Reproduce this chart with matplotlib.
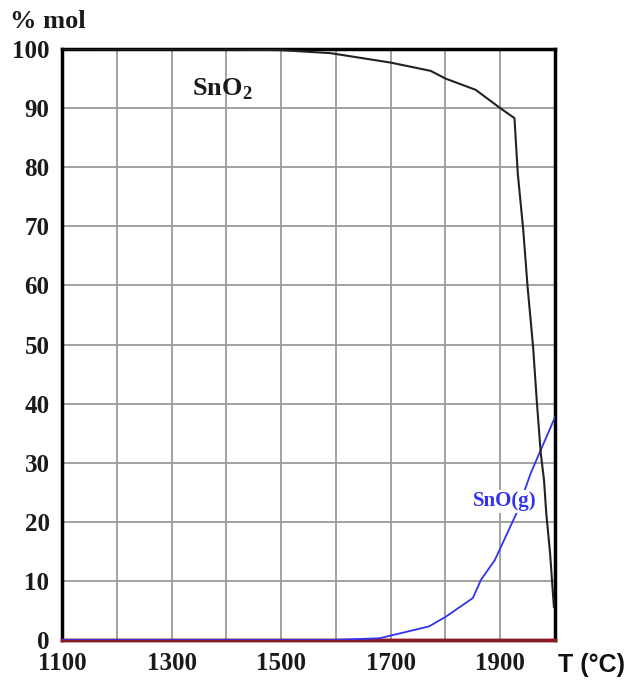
import matplotlib
matplotlib.use("Agg")
import matplotlib.pyplot as plt

plt.rcParams["mathtext.fontset"] = "custom"
plt.rcParams["mathtext.rm"] = "Liberation Serif"
plt.rcParams["mathtext.bf"] = "Liberation Serif:bold"

# SnO2 (condensed) - % mol vs temperature
t_sno2 = [1100, 1430, 1500, 1590, 1700, 1773, 1800, 1855, 1900, 1926,
          1932, 1942, 1950, 1960, 1967, 1974, 1980, 1984, 1991, 1998]
v_sno2 = [100, 99.9, 99.8, 99.3, 97.7, 96.3, 95.0, 93.1, 90.0, 88.3,
          79.0, 69.4, 59.7, 49.6, 40.1, 31.6, 27.0, 21.5, 14.7, 5.6]

# SnO gas
t_sno = [1100, 1595, 1680, 1770, 1800, 1850, 1865, 1890, 1930, 1956, 2000]
v_sno = [0, 0, 0.3, 2.3, 3.9, 7.1, 10.2, 13.5, 21.5, 28.3, 37.7]

# zero-level species
t_zero = [1100, 2000]
v_zero = [0, 0]

xticks = [1100, 1300, 1500, 1700, 1900]
yticks = list(range(0, 101, 10))

serif = ["Liberation Serif", "DejaVu Serif"]

fig = plt.figure(figsize=(6.29, 6.89), dpi=100)
ax = fig.add_axes([62/629, 1 - 640/689, (555-62)/629, (640-49)/689])

for x in range(1100, 2001, 100):
    ax.axvline(x, color="#9a9a9a", lw=1.3, zorder=1)
for y in yticks:
    ax.axhline(y, color="#9a9a9a", lw=1.3, zorder=1)

ax.plot(t_zero, v_zero, color="#8b1c24", lw=2.5, zorder=3, clip_on=False)
ax.plot(t_sno, v_sno, color="#3333ee", lw=1.3, zorder=4)
ax.plot(t_sno2, v_sno2, color="#222222", lw=1.5, zorder=5)

ax.set_xlim(1100, 2000)
ax.set_ylim(0, 100)
ax.set_xticks(xticks)
ax.set_yticks(yticks)
ax.tick_params(axis="y", length=0, pad=9)
ax.tick_params(axis="x", length=0, pad=9)
for lab in ax.get_xticklabels() + ax.get_yticklabels():
    lab.set_fontfamily(serif)
    lab.set_fontweight("bold")
    lab.set_fontsize(18)
    lab.set_color("#1a1a1a")

for s in ["left", "top", "right"]:
    ax.spines[s].set_linewidth(2.5)
    ax.spines[s].set_color("black")
ax.spines["bottom"].set_linewidth(2.5)
ax.spines["bottom"].set_color("#8b1c24")

ax.text(1338, 93.2, "SnO$_\\mathbf{2}$", family=serif, fontweight="bold",
        fontsize=19, ha="left", va="center", color="#1a1a1a")
ax.text(1908, 23.5, "SnO(g)", family=serif, fontweight="bold",
        fontsize=15, ha="center", va="center", color="#3333ee",
        bbox=dict(facecolor="white", edgecolor="none", pad=1), zorder=6)

fig.text(10/629, 1 - 21/689, "% mol", family=serif, fontweight="bold",
         fontsize=19, ha="left", va="center", color="#1a1a1a")
fig.text(591/629, 1 - 665/689, "T (°C)", family=["Liberation Sans", "DejaVu Sans"],
         fontweight="bold", fontsize=18, ha="center", va="center", color="#111111")

fig.savefig("out.png", dpi=100)
